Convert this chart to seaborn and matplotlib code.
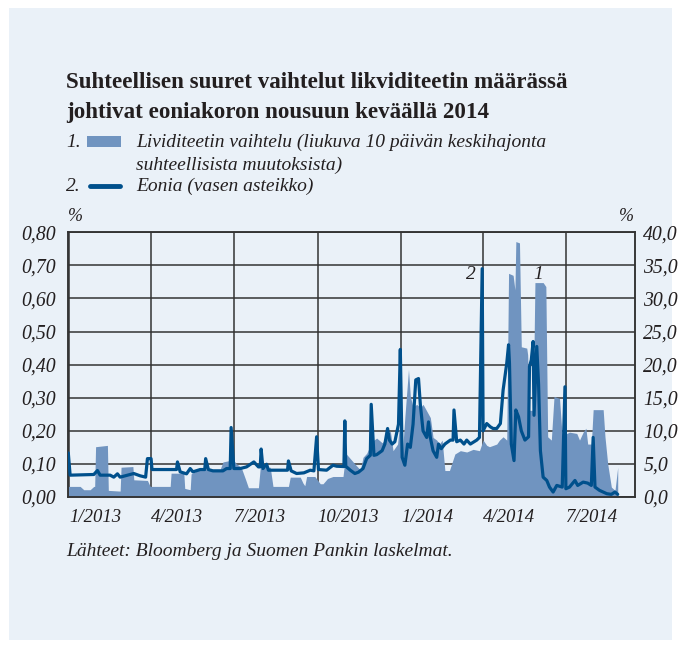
import matplotlib
matplotlib.use("Agg")
import matplotlib.pyplot as plt
import matplotlib.dates as mdates
from matplotlib.patches import Rectangle
from matplotlib.lines import Line2D
from matplotlib.ticker import FuncFormatter, MultipleLocator
import pandas as pd
import seaborn as sns

# Eonia, % (left axis)
eonia_dates = [
    "2012-12-31", "2013-01-02", "2013-01-28", "2013-02-01", "2013-02-04", "2013-02-15",
    "2013-02-19", "2013-02-23", "2013-02-26", "2013-03-06", "2013-03-13", "2013-03-20",
    "2013-03-26", "2013-03-28", "2013-04-01", "2013-04-02", "2013-04-29", "2013-04-30",
    "2013-05-03", "2013-05-10", "2013-05-14", "2013-05-17", "2013-05-25", "2013-05-30",
    "2013-05-31", "2013-06-03", "2013-06-08", "2013-06-19", "2013-06-23", "2013-06-27",
    "2013-06-28", "2013-07-01", "2013-07-08", "2013-07-15", "2013-07-23", "2013-07-28",
    "2013-07-30", "2013-07-31", "2013-08-02", "2013-08-06", "2013-08-08", "2013-08-29",
    "2013-08-30", "2013-09-02", "2013-09-08", "2013-09-16", "2013-09-23", "2013-09-27",
    "2013-09-30", "2013-10-02", "2013-10-11", "2013-10-18", "2013-10-22", "2013-10-30",
    "2013-10-31", "2013-11-01", "2013-11-06", "2013-11-11", "2013-11-15", "2013-11-20",
    "2013-11-24", "2013-11-28", "2013-11-29", "2013-12-02", "2013-12-05", "2013-12-11",
    "2013-12-14", "2013-12-17", "2013-12-19", "2013-12-22", "2013-12-25", "2013-12-29",
    "2013-12-31", "2014-01-02", "2014-01-05", "2014-01-08", "2014-01-11", "2014-01-14",
    "2014-01-17", "2014-01-20", "2014-01-22", "2014-01-25", "2014-01-29", "2014-01-31",
    "2014-02-02", "2014-02-05", "2014-02-09", "2014-02-11", "2014-02-14", "2014-02-18",
    "2014-02-24", "2014-02-27", "2014-02-28", "2014-03-03", "2014-03-07", "2014-03-11",
    "2014-03-14", "2014-03-18", "2014-03-25", "2014-03-28", "2014-03-31", "2014-04-01",
    "2014-04-05", "2014-04-09", "2014-04-12", "2014-04-16", "2014-04-20", "2014-04-23",
    "2014-04-27", "2014-04-29", "2014-04-30", "2014-05-02", "2014-05-05", "2014-05-07",
    "2014-05-10", "2014-05-13", "2014-05-17", "2014-05-21", "2014-05-22", "2014-05-24",
    "2014-05-26", "2014-05-27", "2014-05-30", "2014-06-01", "2014-06-03", "2014-06-06",
    "2014-06-10", "2014-06-13", "2014-06-17", "2014-06-21", "2014-06-27", "2014-06-30",
    "2014-07-01", "2014-07-05", "2014-07-11", "2014-07-14", "2014-07-20", "2014-07-25",
    "2014-07-29", "2014-07-31", "2014-08-02", "2014-08-07", "2014-08-15", "2014-08-20",
    "2014-08-24", "2014-08-27",
]
eonia_values = [
    0.133, 0.066, 0.068, 0.080, 0.066, 0.066,
    0.060, 0.070, 0.060, 0.066, 0.071, 0.064,
    0.060, 0.116, 0.116, 0.083, 0.083, 0.106,
    0.076, 0.070, 0.086, 0.076, 0.083, 0.083,
    0.116, 0.083, 0.079, 0.079, 0.086, 0.086,
    0.210, 0.086, 0.086, 0.091, 0.106, 0.091,
    0.091, 0.145, 0.086, 0.099, 0.081, 0.081,
    0.109, 0.079, 0.071, 0.073, 0.081, 0.079,
    0.182, 0.083, 0.081, 0.096, 0.093, 0.092,
    0.230, 0.093, 0.081, 0.071, 0.075, 0.086,
    0.116, 0.126, 0.280, 0.126, 0.128, 0.140,
    0.160, 0.207, 0.172, 0.160, 0.167, 0.220,
    0.446, 0.120, 0.096, 0.160, 0.150, 0.220,
    0.354, 0.358, 0.280, 0.200, 0.180, 0.227,
    0.180, 0.140, 0.120, 0.160, 0.146, 0.160,
    0.172, 0.172, 0.263, 0.167, 0.172, 0.160,
    0.172, 0.160, 0.172, 0.180, 0.690, 0.200,
    0.222, 0.212, 0.207, 0.207, 0.222, 0.323,
    0.404, 0.460, 0.404, 0.160, 0.110, 0.263,
    0.242, 0.200, 0.172, 0.182, 0.394, 0.414,
    0.470, 0.247, 0.455, 0.340, 0.140, 0.060,
    0.050, 0.030, 0.015, 0.035, 0.030, 0.333,
    0.025, 0.030, 0.050, 0.035, 0.045, 0.042,
    0.035, 0.180, 0.030, 0.020, 0.010, 0.008,
    0.015, 0.008,
]

# Liquidity variation, % (right axis)
liq_dates = [
    "2012-12-31", "2013-01-13", "2013-01-17", "2013-01-24", "2013-01-28", "2013-01-29",
    "2013-01-30", "2013-02-12", "2013-02-13", "2013-02-25", "2013-02-26", "2013-02-27",
    "2013-03-12", "2013-03-13", "2013-03-28", "2013-03-31", "2013-04-22", "2013-04-23",
    "2013-05-07", "2013-05-08", "2013-05-14", "2013-05-15", "2013-05-25", "2013-06-16",
    "2013-06-19", "2013-06-26", "2013-06-28", "2013-07-04", "2013-07-09", "2013-07-14",
    "2013-07-17", "2013-07-28", "2013-07-30", "2013-08-10", "2013-08-13", "2013-08-30",
    "2013-09-01", "2013-09-12", "2013-09-15", "2013-09-17", "2013-09-19", "2013-09-28",
    "2013-10-04", "2013-10-07", "2013-10-12", "2013-10-18", "2013-10-29", "2013-11-01",
    "2013-11-06", "2013-11-11", "2013-11-17", "2013-11-20", "2013-11-24", "2013-11-30",
    "2013-12-05", "2013-12-11", "2013-12-14", "2013-12-20", "2013-12-23", "2013-12-28",
    "2013-12-31", "2014-01-02", "2014-01-05", "2014-01-09", "2014-01-11", "2014-01-14",
    "2014-01-18", "2014-01-22", "2014-01-25", "2014-01-29", "2014-02-02", "2014-02-05",
    "2014-02-09", "2014-02-12", "2014-02-15", "2014-02-18", "2014-02-23", "2014-03-01",
    "2014-03-07", "2014-03-14", "2014-03-21", "2014-03-28", "2014-04-01", "2014-04-05",
    "2014-04-08", "2014-04-16", "2014-04-19", "2014-04-23", "2014-04-27", "2014-04-29",
    "2014-05-04", "2014-05-06", "2014-05-07", "2014-05-11", "2014-05-13", "2014-05-19",
    "2014-05-20", "2014-05-22", "2014-05-26", "2014-05-28", "2014-06-06", "2014-06-09",
    "2014-06-11", "2014-06-15", "2014-06-18", "2014-06-24", "2014-06-27", "2014-07-02",
    "2014-07-05", "2014-07-13", "2014-07-16", "2014-07-20", "2014-07-23", "2014-07-25",
    "2014-07-29", "2014-07-31", "2014-08-11", "2014-08-13", "2014-08-16", "2014-08-20",
    "2014-08-24", "2014-08-27",
]
liq_values = [
    1.6, 1.6, 1.1, 1.1, 1.6, 1.6,
    7.6, 7.8, 1.0, 0.9, 0.9, 4.5,
    4.6, 2.6, 2.5, 1.6, 1.6, 3.6,
    3.6, 1.3, 1.1, 3.5, 4.2, 4.2,
    5.3, 5.5, 6.0, 5.0, 4.5, 2.6,
    1.4, 1.4, 4.4, 4.5, 1.6, 1.6,
    3.0, 3.0, 2.1, 1.7, 3.1, 3.1,
    2.0, 2.0, 2.8, 3.1, 3.1, 6.6,
    5.8, 5.0, 4.1, 6.0, 6.6, 8.4,
    8.9, 8.2, 8.6, 10.0, 7.0, 8.0,
    12.0, 6.0, 12.1, 19.3, 15.2, 13.6,
    14.0, 13.5, 14.0, 13.0, 12.0, 9.0,
    8.6, 8.0, 8.6, 4.0, 4.0, 6.5,
    7.0, 6.8, 7.2, 7.0, 8.6, 7.8,
    7.6, 8.0, 8.6, 9.1, 8.6, 33.8,
    33.5, 31.3, 38.6, 38.4, 22.7, 22.5,
    21.5, 13.1, 13.1, 32.4, 32.4, 31.8,
    9.1, 8.6, 15.2, 14.9, 9.1, 9.6,
    9.8, 9.6, 8.6, 9.8, 10.4, 8.0,
    8.0, 13.2, 13.2, 9.1, 5.0, 1.5,
    1.0, 4.5,
]

title_lines = [
    "Suhteellisen suuret vaihtelut likviditeetin määrässä",
    "johtivat eoniakoron nousuun keväällä 2014",
]
legend_liq = ["Lividiteetin vaihtelu (liukuva 10 päivän keskihajonta",
              "suhteellisista muutoksista)"]
legend_eonia = "Eonia (vasen asteikko)"
source_text = "Lähteet: Bloomberg ja Suomen Pankin laskelmat."

PANEL = "#eaf1f8"
AREA = "#7094c0"
LINE = "#00508c"
GRID = "#333333"
TEXT = "#231f20"

sns.set_theme(style="white")
plt.rcParams["font.family"] = ["Liberation Serif", "DejaVu Serif"]

eonia = pd.DataFrame({"date": pd.to_datetime(eonia_dates), "value": eonia_values})
liq = pd.DataFrame({"date": pd.to_datetime(liq_dates), "value": liq_values})

W, H = 681, 646
fig = plt.figure(figsize=(W / 100, H / 100), dpi=100, facecolor="white")


def fx(px):
    return px / W


def fy(py):
    return 1 - py / H


# light blue panel behind everything
fig.patches.append(Rectangle((fx(9), fy(640)), fx(663), 632 / H,
                             transform=fig.transFigure, facecolor=PANEL,
                             edgecolor="none", zorder=-10))

ax2 = fig.add_axes([fx(68.3), fy(497), fx(635 - 68.3), (497 - 232.3) / H])
ax = ax2.twinx()
ax.patch.set_visible(False)
ax2.patch.set_visible(False)

x0, x1 = pd.Timestamp("2012-12-31"), pd.Timestamp("2014-09-15")

# right-hand scale: liquidity variation area with the grid underneath
ax2.fill_between(liq["date"], 0, liq["value"], color=AREA, linewidth=0, zorder=2)
ax2.set_ylim(0, 40)
ax2.set_xlim(x0, x1)
ax2.yaxis.tick_right()
ax2.yaxis.set_label_position("right")
ax2.yaxis.set_major_locator(MultipleLocator(5))
ax2.yaxis.set_major_formatter(FuncFormatter(lambda v, p: f"{v:.1f}".replace(".", ",")))
ax2.xaxis.set_major_locator(mdates.MonthLocator(bymonth=[1, 4, 7, 10]))
ax2.xaxis.set_major_formatter(FuncFormatter(
    lambda v, p: f"{mdates.num2date(v).month}/{mdates.num2date(v).year}"))
ax2.grid(axis="both", color=GRID, linewidth=1.1, zorder=1)
ax2.set_axisbelow(True)

# left-hand scale: Eonia
ax.yaxis.tick_left()
ax.yaxis.set_label_position("left")
sns.lineplot(data=eonia, x="date", y="value", ax=ax, color=LINE, linewidth=2.3,
             solid_joinstyle="round", solid_capstyle="round", zorder=3)
ax.set_ylim(0, 0.8)
ax.set_xlim(x0, x1)
ax.yaxis.set_major_locator(MultipleLocator(0.1))
ax.yaxis.set_major_formatter(FuncFormatter(lambda v, p: f"{v:.2f}".replace(".", ",")))
ax.set_xlabel("")
ax.set_ylabel("")
ax2.set_xlabel("")
ax2.set_ylabel("")

for a in (ax, ax2):
    for s in a.spines.values():
        s.set_color(GRID)
        s.set_linewidth(1.1)
    a.tick_params(axis="both", length=0)
ax.tick_params(axis="y", pad=9)
ax2.tick_params(axis="y", pad=6)
ax2.tick_params(axis="x", pad=9)
for lab in ax.get_yticklabels() + ax2.get_yticklabels():
    lab.set_fontstyle("italic")
    lab.set_fontsize(14.2)
    lab.set_color(TEXT)
for lab in ax2.get_xticklabels():
    lab.set_fontstyle("italic")
    lab.set_fontsize(13.5)
    lab.set_color(TEXT)
    lab.set_horizontalalignment("left")

# series markers inside the plot
ax.text(pd.Timestamp("2014-03-19"), 0.672, "2", style="italic", fontsize=14,
        color=TEXT, ha="center", va="center")
ax.text(pd.Timestamp("2014-06-01"), 0.672, "1", style="italic", fontsize=14,
        color=TEXT, ha="center", va="center")

# axis unit labels
fig.text(fx(68), fy(221), "%", fontsize=13, style="italic", color=TEXT)
fig.text(fx(619), fy(221), "%", fontsize=13, style="italic", color=TEXT)

# title
fig.text(fx(66), fy(88), title_lines[0], fontsize=16.6, fontweight="bold",
         color=TEXT, va="baseline")
fig.text(fx(66), fy(118), title_lines[1], fontsize=16.6, fontweight="bold",
         color=TEXT, va="baseline")

# legend
lg = dict(fontsize=14, style="italic", color=TEXT, va="baseline")
fig.text(fx(66), fy(147), "1.", **lg)
fig.patches.append(Rectangle((fx(87), fy(147)), fx(34), 11 / H,
                             transform=fig.transFigure, facecolor=AREA,
                             edgecolor="none"))
fig.text(fx(136), fy(147), legend_liq[0], **lg)
fig.text(fx(136), fy(170), legend_liq[1], **lg)
fig.text(fx(66), fy(191), "2.", **lg)
fig.lines.append(Line2D([fx(90), fx(120)], [fy(186), fy(186)],
                        transform=fig.transFigure, color=LINE, linewidth=3.5,
                        solid_capstyle="round"))
fig.text(fx(136), fy(191), legend_eonia, **lg)

# source
fig.text(fx(66), fy(556), source_text, **lg)

fig.savefig("out.png", dpi=100, facecolor="white")
